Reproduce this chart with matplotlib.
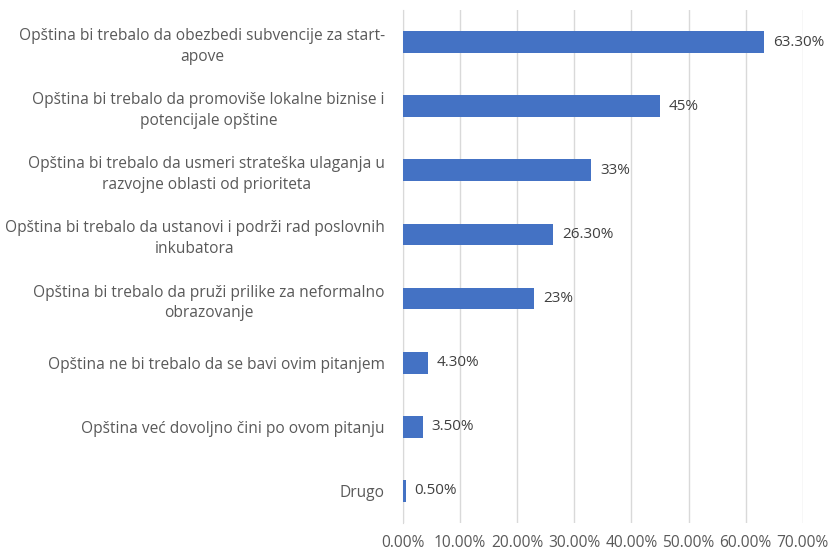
import matplotlib
matplotlib.use("Agg")
import matplotlib.pyplot as plt
from matplotlib.ticker import FuncFormatter

categories = [
    "Opština bi trebalo da obezbedi subvencije za start-\napove",
    "Opština bi trebalo da promoviše lokalne biznise i\npotencijale opštine",
    "Opština bi trebalo da usmeri strateška ulaganja u\nrazvojne oblasti od prioriteta",
    "Opština bi trebalo da ustanovi i podrži rad poslovnih\ninkubatora",
    "Opština bi trebalo da pruži prilike za neformalno\nobrazovanje",
    "Opština ne bi trebalo da se bavi ovim pitanjem",
    "Opština već dovoljno čini po ovom pitanju",
    "Drugo",
]
values = [63.3, 45, 33, 26.3, 23, 4.3, 3.5, 0.5]
value_labels = ["63.30%", "45%", "33%", "26.30%", "23%", "4.30%", "3.50%", "0.50%"]

plt.rcParams['font.family'] = ['Open Sans', 'DejaVu Sans']
fig = plt.figure(figsize=(8.31, 5.54), dpi=100)
ax = fig.add_axes([0.485, 0.056, 0.481, 0.926])

y = list(range(len(categories)))
ax.barh(y, values, height=0.34, color="#4472C4", zorder=3)
ax.set_ylim(len(categories) - 0.5, -0.5)
ax.set_xlim(0, 70)
ax.set_xticks(range(0, 71, 10))
ax.xaxis.set_major_formatter(FuncFormatter(lambda v, p: f"{v:.2f}%"))
ax.set_yticks(y)
ax.set_yticklabels(categories, multialignment='center', linespacing=1.4)
ax.tick_params(axis='both', length=0, colors="#595959", labelsize=11.2)
ax.tick_params(axis='y', pad=13)
ax.tick_params(axis='x', pad=9)
ax.grid(axis='x', color="#d9d9d9", linewidth=1, zorder=0)
for s in ['top', 'right', 'bottom']:
    ax.spines[s].set_visible(False)
ax.spines['left'].set_color("#d9d9d9")
for yi, v, lab in zip(y, values, value_labels):
    ax.text(v + 1.5, yi, lab, va='center', ha='left', fontsize=11, color="#404040", zorder=4)

fig.savefig("out.png", dpi=100)
